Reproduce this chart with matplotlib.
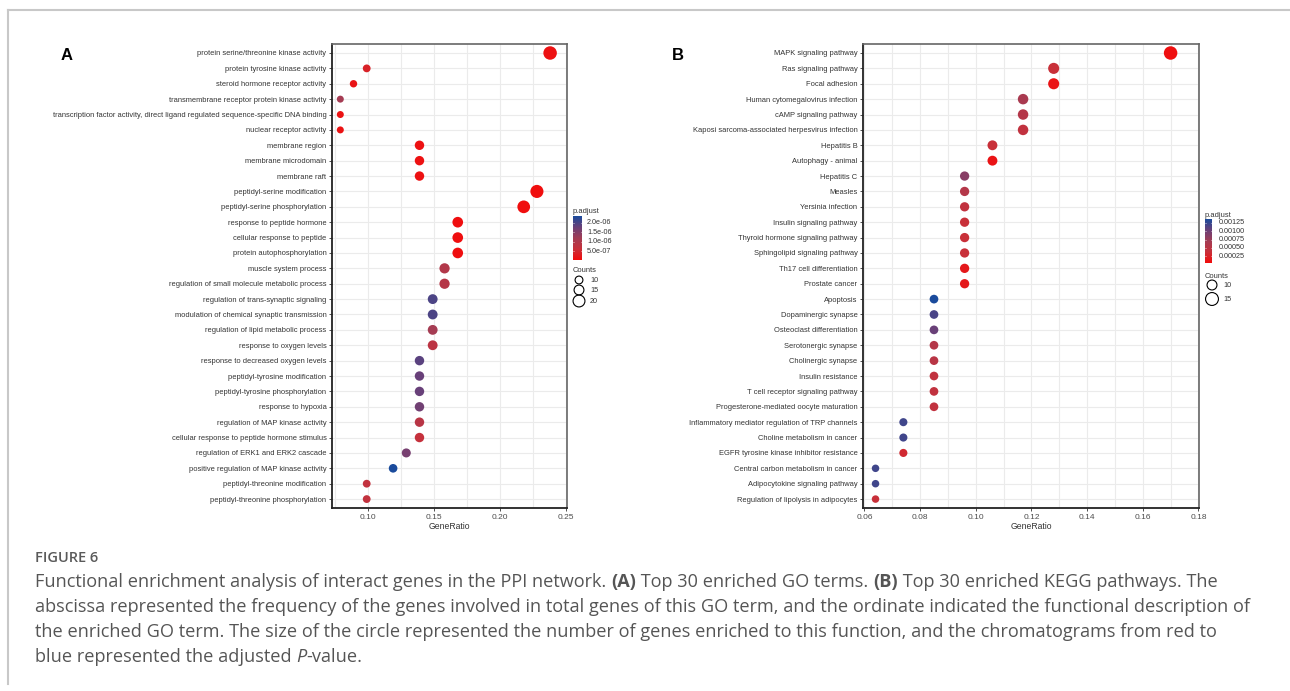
import numpy as np
import matplotlib.pyplot as plt
import matplotlib.transforms as mtransforms
from matplotlib.colors import LinearSegmentedColormap

plt.rcParams['font.family'] = ['Liberation Sans', 'DejaVu Sans']

W, H = 1290, 691

# ---- data: GO terms (panel A)
go_terms = [
    "protein serine/threonine kinase activity",
    "protein tyrosine kinase activity",
    "steroid hormone receptor activity",
    "transmembrane receptor protein kinase activity",
    "transcription factor activity, direct ligand regulated sequence-specific DNA binding",
    "nuclear receptor activity",
    "membrane region",
    "membrane microdomain",
    "membrane raft",
    "peptidyl-serine modification",
    "peptidyl-serine phosphorylation",
    "response to peptide hormone",
    "cellular response to peptide",
    "protein autophosphorylation",
    "muscle system process",
    "regulation of small molecule metabolic process",
    "regulation of trans-synaptic signaling",
    "modulation of chemical synaptic transmission",
    "regulation of lipid metabolic process",
    "response to oxygen levels",
    "response to decreased oxygen levels",
    "peptidyl-tyrosine modification",
    "peptidyl-tyrosine phosphorylation",
    "response to hypoxia",
    "regulation of MAP kinase activity",
    "cellular response to peptide hormone stimulus",
    "regulation of ERK1 and ERK2 cascade",
    "positive regulation of MAP kinase activity",
    "peptidyl-threonine modification",
    "peptidyl-threonine phosphorylation",
]
go_ratio = [0.238, 0.099, 0.089, 0.079, 0.079, 0.079, 0.139, 0.139, 0.139, 0.228,
            0.218, 0.168, 0.168, 0.168, 0.158, 0.158, 0.149, 0.149, 0.149, 0.149,
            0.139, 0.139, 0.139, 0.139, 0.139, 0.139, 0.129, 0.119, 0.099, 0.099]
go_count = [24, 10, 9, 8, 8, 8, 14, 14, 14, 23,
            22, 17, 17, 17, 16, 16, 15, 15, 15, 15,
            14, 14, 14, 14, 14, 14, 13, 12, 10, 10]
go_padj = [1.0e-7, 3.8e-7, 1.5e-7, 1.15e-6, 1.2e-7, 1.2e-7, 1.0e-7, 1.0e-7, 1.0e-7, 5e-8,
           5e-8, 6e-8, 6e-8, 6e-8, 9.5e-7, 9.0e-7, 2.0e-6, 2.0e-6, 1.15e-6, 8.0e-7,
           1.9e-6, 1.8e-6, 1.8e-6, 1.7e-6, 8.5e-7, 6.5e-7, 1.65e-6, 2.37e-6, 7.0e-7, 7.0e-7]

# ---- data: KEGG pathways (panel B)
kegg_terms = [
    "MAPK signaling pathway",
    "Ras signaling pathway",
    "Focal adhesion",
    "Human cytomegalovirus infection",
    "cAMP signaling pathway",
    "Kaposi sarcoma-associated herpesvirus infection",
    "Hepatitis B",
    "Autophagy - animal",
    "Hepatitis C",
    "Measles",
    "Yersinia infection",
    "Insulin signaling pathway",
    "Thyroid hormone signaling pathway",
    "Sphingolipid signaling pathway",
    "Th17 cell differentiation",
    "Prostate cancer",
    "Apoptosis",
    "Dopaminergic synapse",
    "Osteoclast differentiation",
    "Serotonergic synapse",
    "Cholinergic synapse",
    "Insulin resistance",
    "T cell receptor signaling pathway",
    "Progesterone-mediated oocyte maturation",
    "Inflammatory mediator regulation of TRP channels",
    "Choline metabolism in cancer",
    "EGFR tyrosine kinase inhibitor resistance",
    "Central carbon metabolism in cancer",
    "Adipocytokine signaling pathway",
    "Regulation of lipolysis in adipocytes",
]
kegg_ratio = [0.170, 0.128, 0.128, 0.117, 0.117, 0.117, 0.106, 0.106, 0.096, 0.096,
              0.096, 0.096, 0.096, 0.096, 0.096, 0.096, 0.085, 0.085, 0.085, 0.085,
              0.085, 0.085, 0.085, 0.085, 0.074, 0.074, 0.074, 0.064, 0.064, 0.064]
kegg_count = [16, 12, 12, 11, 11, 11, 10, 10, 9, 9,
              9, 9, 9, 9, 9, 9, 8, 8, 8, 8,
              8, 8, 8, 8, 7, 7, 7, 6, 6, 6]
kegg_padj = [6.7e-5, 3.7e-4, 1.05e-4, 6.4e-4, 5.5e-4, 4.4e-4, 3.7e-4, 1.05e-4, 8.6e-4, 5.5e-4,
             4.4e-4, 3.7e-4, 3.7e-4, 3.7e-4, 1.5e-4, 1.5e-4, 1.37e-3, 1.17e-3, 1.04e-3, 5.5e-4,
             5.1e-4, 4.4e-4, 4.4e-4, 4.4e-4, 1.21e-3, 1.21e-3, 3.1e-4, 1.21e-3, 1.21e-3, 3.7e-4]

cmap = LinearSegmentedColormap.from_list(
    'padj', [(0, '#f20c0c'), (0.25, '#c8303a'), (0.5, '#a23d55'), (0.75, '#6a4078'), (1, '#1a4b9c')])

fig = plt.figure(figsize=(W / 100, H / 100), dpi=100)
over = fig.add_axes([0, 0, 1, 1])
over.set_xlim(0, W)
over.set_ylim(H, 0)
over.axis('off')

# outer frame (top and left edges)
over.plot([8, W], [10, 10], color='#c8c8c8', lw=1.5)
over.plot([8, 8], [10, 684], color='#c8c8c8', lw=1.5)


def diam(count, crng, drng):
    return drng[0] + (np.asarray(count, float) - crng[0]) / (crng[1] - crng[0]) * (drng[1] - drng[0])


def dot_panel(x0, x1, terms, ratio, count, padj, xlim, xticks, xfmt, minor, vlim, crng, drng):
    ax = fig.add_axes([x0 / W, 1 - 508 / H, (x1 - x0) / W, 464 / H])
    y = np.arange(len(terms))
    d = diam(count, crng, drng)
    ax.scatter(ratio, y, s=(d * 0.72) ** 2, c=padj, cmap=cmap, vmin=vlim[0], vmax=vlim[1],
               edgecolors='none', zorder=3)
    ax.set_ylim(29.58, -0.585)
    ax.set_yticks(y)
    ax.set_yticklabels(terms, fontsize=5.45, color='#333333')
    ax.set_xlim(*xlim)
    ax.set_xticks(xticks)
    ax.set_xticklabels([xfmt % v for v in xticks], fontsize=6, color='#4d4d4d')
    ax.set_xticks(minor, minor=True)
    ax.grid(True, which='both', color='#ebebeb', lw=0.8)
    ax.set_axisbelow(True)
    ax.tick_params(axis='both', which='major', length=2.5, width=0.6, color='#333333', pad=1.5)
    ax.tick_params(axis='x', which='minor', length=0)
    for side in ['left', 'bottom']:
        ax.spines[side].set_color('#222222')
        ax.spines[side].set_linewidth(1.3)
    for side in ['top', 'right']:
        ax.spines[side].set_color('#666666')
        ax.spines[side].set_linewidth(1.2)
    ax.set_xlabel('GeneRatio', fontsize=6.2, color='#333333', labelpad=1)
    return ax


axA = dot_panel(332, 567, go_terms, go_ratio, go_count, go_padj,
                (0.0727, 0.2508), [0.10, 0.15, 0.20, 0.25], '%.2f',
                [0.075, 0.125, 0.175, 0.225], (2e-8, 2.37e-6), (8, 24), (7.0, 13.5))
axB = dot_panel(863, 1199, kegg_terms, kegg_ratio, kegg_count, kegg_padj,
                (0.0595, 0.1802), [0.06, 0.08, 0.10, 0.12, 0.14, 0.16, 0.18], '%.2f',
                [0.07, 0.09, 0.11, 0.13, 0.15, 0.17], (4e-5, 1.37e-3), (6, 16), (7.5, 13.5))

over.text(67, 55, 'A', fontsize=12, fontweight='bold', ha='center', va='center')
over.text(678, 55, 'B', fontsize=12, fontweight='bold', ha='center', va='center')


def legend(x, top, bottom, cw, vlim, ticks, labels, lab_x, title_y, cnt_title_y,
           cnt_vals, cnt_ys, circ_x, cnt_lab_x, crng, drng):
    over.text(x, title_y, 'p.adjust', fontsize=5.4, color='#333333', ha='left', va='center')
    cax = fig.add_axes([x / W, 1 - bottom / H, cw / W, (bottom - top) / H])
    grad = np.linspace(0, 1, 256).reshape(-1, 1)
    cax.imshow(grad, cmap=cmap, aspect='auto', origin='lower', interpolation='bilinear',
               extent=(0, 1, vlim[0], vlim[1]))
    cax.set_xlim(0, 1)
    cax.set_ylim(*vlim)
    cax.set_autoscale_on(False)
    cax.axis('off')
    tr = mtransforms.blended_transform_factory(cax.transAxes, cax.transData)
    for v, lab in zip(ticks, labels):
        cax.plot([0, 0.15], [v, v], color='white', lw=0.5, solid_capstyle='butt', transform=tr)
        cax.plot([0.85, 1], [v, v], color='white', lw=0.5, solid_capstyle='butt', transform=tr)
        py = bottom - (v - vlim[0]) / (vlim[1] - vlim[0]) * (bottom - top)
        over.text(lab_x, py, lab, fontsize=5.2, color='#333333', ha='left', va='center')
    over.text(x, cnt_title_y, 'Counts', fontsize=5.4, color='#333333', ha='left', va='center')
    d = diam(cnt_vals, crng, drng)
    over.scatter([circ_x] * len(cnt_vals), cnt_ys, s=(d * 0.72) ** 2, facecolors='none',
                 edgecolors='black', linewidths=0.8)
    for v, py in zip(cnt_vals, cnt_ys):
        over.text(cnt_lab_x, py, str(v), fontsize=5.2, color='#333333', ha='left', va='center')


legend(573, 216, 260, 9, (2e-8, 2.37e-6), [2.0e-6, 1.5e-6, 1.0e-6, 5.0e-7],
       ['2.0e-06', '1.5e-06', '1.0e-06', '5.0e-07'], 587, 211, 270,
       [10, 15, 20], [280, 290, 301], 579, 590, (8, 24), (7.0, 13.5))
legend(1205, 219, 263, 7, (4e-5, 1.37e-3), [0.00125, 0.00100, 0.00075, 0.00050, 0.00025],
       ['0.00125', '0.00100', '0.00075', '0.00050', '0.00025'], 1219, 215, 276,
       [10, 15], [285, 299], 1212, 1223, (6, 16), (7.5, 13.5))

# ---- caption
renderer = fig.canvas.get_renderer()
cap_font = ['Open Sans', 'DejaVu Sans']


def text_width(s, **kw):
    a = over.text(0, 0, '|' + s + '|', **kw)
    b = over.text(0, 0, '||', **kw)
    w = a.get_window_extent(renderer).width - b.get_window_extent(renderer).width
    a.remove()
    b.remove()
    return w


def caption_line(y, segs, x=35, size=13.1):
    for s, style in segs:
        kw = dict(fontsize=size, color='#555555', family=cap_font)
        if style == 'b':
            kw['fontweight'] = 'bold'
        if style == 'i':
            kw['fontstyle'] = 'italic'
        over.text(x, y, s, ha='left', va='center', **kw)
        x += text_width(s, **kw)


over.text(35, 558, 'FIGURE 6', fontsize=10.5, color='#5a5a5a', fontweight='semibold',
          family=cap_font, ha='left', va='center')
caption_line(582, [("Functional enrichment analysis of interact genes in the PPI network. ", ''),
                   ("(A)", 'b'), (" Top 30 enriched GO terms. ", ''), ("(B)", 'b'),
                   (" Top 30 enriched KEGG pathways. The", '')])
caption_line(607, [("abscissa represented the frequency of the genes involved in total genes of this GO term, "
                    "and the ordinate indicated the functional description of", '')])
caption_line(632, [("the enriched GO term. The size of the circle represented the number of genes enriched to "
                    "this function, and the chromatograms from red to", '')])
caption_line(657, [("blue represented the adjusted ", ''), ("P", 'i'), ("-value.", '')])

fig.savefig('out.png', dpi=100)
